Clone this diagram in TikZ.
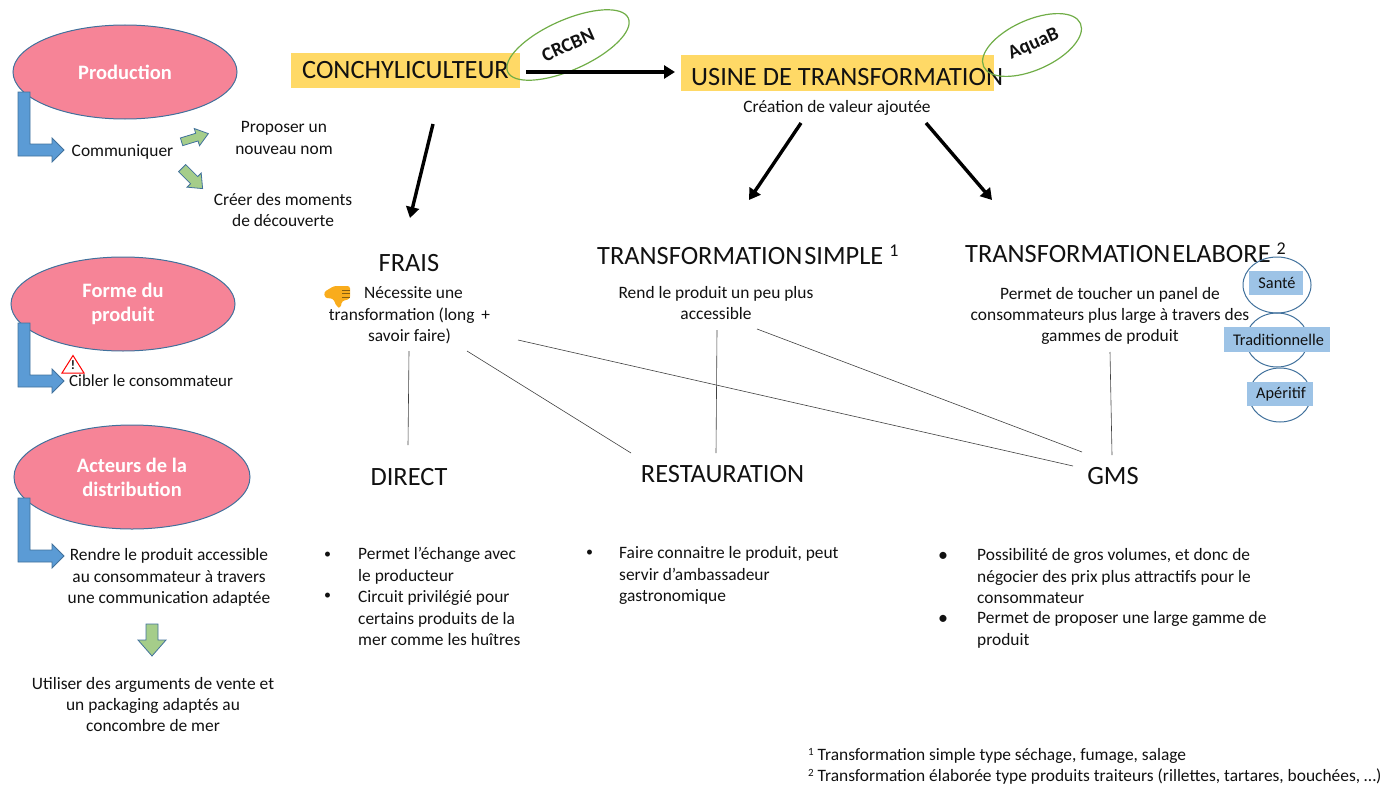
\documentclass[tikz,border=0pt]{standalone}
\usepackage{fontspec}
\setmainfont{Carlito}
\usetikzlibrary{shapes.geometric,arrows.meta}
\definecolor{pinkf}{HTML}{F68497}
\definecolor{edgeb}{HTML}{41719C}
\definecolor{blueb}{HTML}{5B9BD5}
\definecolor{greena}{HTML}{A5CD8A}
\definecolor{greene}{HTML}{70AD47}
\definecolor{yell}{HTML}{FFD966}
\definecolor{paleb}{HTML}{9DC3E6}
\definecolor{txt}{HTML}{111111}
\definecolor{thumbf}{HTML}{F9AC1C}
\tikzset{
 x=1pt,y=-1pt,
 every node/.style={text=txt,font=\fontsize{17.4}{21.4}\selectfont,align=center,inner sep=0pt},
 cat/.style={ellipse,draw=edgeb,line width=1pt,fill=pinkf,inner sep=0pt,text=white,font=\fontsize{20.5}{24}\selectfont\bfseries},
 head/.style={font=\fontsize{26.4}{30}\selectfont},
 band/.style={fill=yell},
 org/.style={ellipse,draw=greene,line width=1.2pt,font=\fontsize{19.5}{20}\selectfont\bfseries},
 bigarrow/.style={draw=black,line width=3.4pt,-{Triangle[length=11pt,width=13pt]}},
 thin/.style={draw=black!75,line width=.6pt},
 bent/.style={fill=blueb,draw=edgeb,line width=.8pt},
 small/.style={fill=greena,draw=edgeb,line width=.8pt},
 circ/.style={ellipse,draw=edgeb,line width=1pt},
 tag/.style={fill=paleb,font=\fontsize{16.3}{18}\selectfont},
 bul/.style={align=left,anchor=north west,font=\fontsize{17.4}{21.4}\selectfont},
}
\newcommand{\bentarrow}[2]{\draw[bent,shift={(#1,#2)}] (0,0)--(12,0)--(12,52)--(34,52)--(34,46)--(46,58)--(34,70)--(34,64)--(0,64)--cycle;}
\begin{document}
\begin{tikzpicture}
\useasboundingbox (0,0) rectangle (1386,784);
% categories
\node[cat,minimum width=224pt,minimum height=94pt] (prod) at (125,72) {Production};
\node[cat,minimum width=224pt,minimum height=94pt] (forme) at (123,304) {Forme du\\produit};
\node[cat,minimum width=236pt,minimum height=104pt] (acteurs) at (132,477) {Acteurs de la\\distribution};
\bentarrow{18}{92}
\bentarrow{18}{323}
\bentarrow{18}{498}
% left column
\node (comm) at (122.5,151.5) {Communiquer};
\node (prop) at (284,138) {Proposer un\\nouveau nom};
\node (creer) at (283,210) {Créer des moments\\de découverte};
\draw[small,shift={(194,138)},rotate=17] (-13,-4)--(3,-4)--(3,-9)--(15,0)--(3,9)--(3,4)--(-13,4)--cycle;
\draw[small,shift={(192,178)},rotate=-45] (-14,-5)--(3,-5)--(3,-10)--(15,0)--(3,10)--(3,5)--(-14,5)--cycle;
\draw[draw=red,fill=white,line width=1pt] (73,355.5)--(62,373)--(84,373)--cycle;
\node[font=\fontsize{13}{13}\selectfont\bfseries] (warn) at (73,365.5) {!};
\node[anchor=west,font=\fontsize{16.9}{20}\selectfont] (cibler) at (69,381) {Cibler le consommateur};
\node (rendre) at (169,577.5) {Rendre le produit accessible\\au consommateur à travers\\une communication adaptée};
\draw[small] (146,624)--(158,624)--(158,640)--(166,640)--(152,656)--(138,640)--(146,640)--cycle;
\node (util) at (153,704.5) {Utiliser des arguments de vente et\\un packaging adaptés au\\concombre de mer};
% top row
\node[band,head,minimum width=229pt,minimum height=35pt] (conch) at (405.5,70.5) {\raisebox{-4.5pt}{CONCHYLICULTEUR}};
\node[band,minimum width=313pt,minimum height=35pt] (usineb) at (837.5,73) {};
\node[head,anchor=west] (usine) at (691,77) {USINE DE TRANSFORMATION};
\node[org,minimum width=132pt,minimum height=50pt,rotate=24] (crcbn) at (568,45) {CRCBN};
\node[org,minimum width=106pt,minimum height=50pt,rotate=24] (aquab) at (1032,45) {\hspace*{4pt}AquaB};
\node (creation) at (837,108) {Création de valeur ajoutée};
\coordinate (a1) at (526,72); \coordinate (a2) at (675,72);
\draw[bigarrow] (a1)--(a2);
\coordinate (b1) at (433,124); \coordinate (b2) at (410,218);
\draw[bigarrow] (b1)--(b2);
\coordinate (c1) at (801,123); \coordinate (c2) at (749,200);
\draw[bigarrow] (c1)--(c2);
\coordinate (d1) at (926,123); \coordinate (d2) at (992,200);
\draw[bigarrow] (d1)--(d2);
% middle headings
\node[head] (frais) at (409,263) {FRAIS};
\node[head,anchor=west] (tsimple) at (597,255) {TRANSFORMATION\hspace{2pt}SIMPLE \raisebox{8pt}{\fontsize{18}{18}\selectfont 1}};
\node[head,anchor=west] (telab) at (965,253) {TRANSFORMATION\hspace{2pt}ELABORE \raisebox{8pt}{\fontsize{18}{18}\selectfont 2}};
\node (fraistxt) at (409.5,315.5) {\hspace*{8pt}Nécessite une\\transformation (long\hspace{3pt} +\\savoir faire)};
\fill[thumbf,rounded corners=2.5pt] (324,292)--(334,286)--(350,286)--(350,299)--(342,301)--(340.5,308)--(337,307)--(333,298.5)--(325,298)--cycle;
\draw[black!45!thumbf,line width=.4pt] (342,290)--(350,290) (342,293.5)--(350,293.5) (342,297)--(350,297);
\node (simpletxt) at (716,303) {Rend le produit un peu plus\\accessible};
\node (elabtxt) at (1110,316) {Permet de toucher un panel de\\consommateurs plus large à travers des\\gammes de produit};
% circles
\node[circ,minimum width=68pt,minimum height=56pt] (c-sante) at (1277,285) {};
\node[circ,minimum width=62pt,minimum height=54pt] (c-trad) at (1277,340) {};
\node[circ,minimum width=62pt,minimum height=54pt] (c-aper) at (1280,395) {};
\node[tag,minimum width=54pt,minimum height=24pt] (sante) at (1276,283) {\raisebox{-2pt}{\hspace*{2pt}Santé}};
\node[tag,minimum width=106pt,minimum height=25pt] (trad) at (1277,339.5) {\raisebox{-2pt}{\hspace*{3pt}Traditionnelle}};
\node[tag,minimum width=66pt,minimum height=24pt] (aper) at (1280,394) {\raisebox{-2pt}{\hspace*{2pt}Apéritif}};
% channels
\node[head] (direct) at (409,477) {DIRECT};
\node[head] (resto) at (722.5,474) {RESTAURATION};
\node[head] (gms) at (1113,476) {GMS};
\coordinate (l1a) at (409,351); \coordinate (l1b) at (408,445);
\draw[thin] (l1a)--(l1b);
\coordinate (l2a) at (467,351); \coordinate (l2b) at (631,453);
\draw[thin] (l2a)--(l2b);
\coordinate (l3a) at (518,340); \coordinate (l3b) at (1073,466);
\draw[thin] (l3a)--(l3b);
\coordinate (l4a) at (717,330); \coordinate (l4b) at (716,453);
\draw[thin] (l4a)--(l4b);
\coordinate (l5a) at (757,329); \coordinate (l5b) at (1082,452);
\draw[thin] (l5a)--(l5b);
\coordinate (l6a) at (1110,352); \coordinate (l6b) at (1112,455);
\draw[thin] (l6a)--(l6b);
% bullets
\node[bul,font=\fontsize{14}{21}\selectfont] (bd0) at (324,552) {•}; 
\node[bul] (bd1) at (358,547.5) {Permet l’échange avec\\le producteur};
\node[bul,font=\fontsize{14}{21}\selectfont] (bd2) at (324,593) {•};
\node[bul] (bd3) at (358,590.5) {Circuit privilégié pour\\certains produits de la\\mer comme les huîtres};
\node[bul,font=\fontsize{14}{21}\selectfont] (br0) at (586,550) {•};
\node[bul] (br1) at (619,546.5) {Faire connaitre le produit, peut\\servir d’ambassadeur\\gastronomique};
\node[bul,font=\fontsize{20}{21}\selectfont] (bg0) at (938,552.5) {•};
\node[bul] (bg1) at (977,548.5) {Possibilité de gros volumes, et donc de\\négocier des prix plus attractifs pour le\\consommateur};
\node[bul,font=\fontsize{20}{21}\selectfont] (bg2) at (938,615.5) {•};
\node[bul] (bg3) at (977,611.5) {Permet de proposer une large gamme de\\produit};
% footnotes
\node[anchor=west] (fn1) at (808,756) {\raisebox{5pt}{\fontsize{11}{11}\selectfont 1} Transformation simple type séchage, fumage, salage};
\node[anchor=west] (fn2) at (808,777) {\raisebox{5pt}{\fontsize{11}{11}\selectfont 2} Transformation élaborée type produits traiteurs (rillettes, tartares, bouchées, …)};
\end{tikzpicture}
\end{document}
